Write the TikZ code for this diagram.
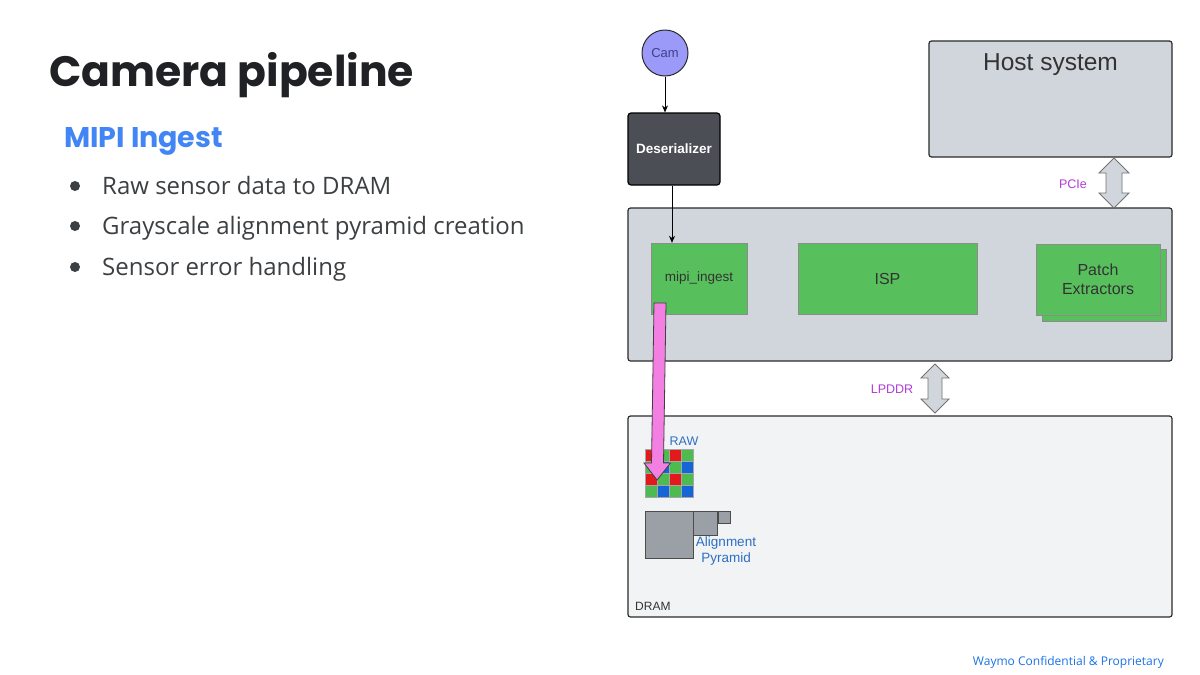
\documentclass[tikz,border=0pt]{standalone}
\usepackage{fontspec}
\setmainfont{Liberation Sans}
\newfontfamily\titlefont{Poppins}
\newfontfamily\bodyfont{Open Sans}
\definecolor{titlec}{HTML}{202124}
\definecolor{bodyc}{HTML}{3C4043}
\definecolor{gblue}{HTML}{4285F4}
\definecolor{footblue}{HTML}{1A73E8}
\definecolor{camfill}{HTML}{9B9AF8}
\definecolor{camtext}{HTML}{3F3F8F}
\definecolor{desfill}{HTML}{4B4E55}
\definecolor{socfill}{HTML}{D1D5DC}
\definecolor{dramfill}{HTML}{F1F3F5}
\definecolor{boxgreen}{HTML}{57C05C}
\definecolor{lblmag}{HTML}{B23CD8}
\definecolor{lblblue}{HTML}{2E6FC4}
\definecolor{bred}{HTML}{E3191C}
\definecolor{bgreen}{HTML}{4CBB50}
\definecolor{bblue}{HTML}{1565D8}
\definecolor{pyrgrey}{HTML}{9AA0A6}
\definecolor{pinkarr}{HTML}{F47FE3}
\definecolor{edge}{HTML}{2B2B2B}
\usetikzlibrary{arrows.meta}
\tikzset{
  bigbox/.style={draw=edge, line width=1.2pt, rounded corners=2.5pt, inner sep=0pt},
  greenbox/.style={draw=black!45, fill=boxgreen, line width=0.4pt, inner sep=0pt, align=center, text=black!80, font=\fontsize{16}{19.5}\selectfont},
  bulletdot/.style={circle, fill=bodyc, inner sep=0pt, minimum size=10pt},
  bullettext/.style={anchor=base west, text=bodyc, font=\bodyfont\fontsize{24}{27}\selectfont, inner sep=0pt},
  dblarrow/.style={draw=black!55, fill=socfill, line width=0.8pt, line join=miter},
  conn/.style={draw=black, line width=0.8pt, -{Stealth[length=7pt,width=6pt]}},
  lbl/.style={inner sep=0pt, font=\fontsize{12.5}{14}\selectfont},
  bayer/.style={draw=black!35, line width=0.3pt},
}
\begin{document}
\begin{tikzpicture}[x=1pt,y=-1pt]
\useasboundingbox (0,0) rectangle (1200,675);
\fill[white] (0,0) rectangle (1200,675);

% ---- left text ----
\node[anchor=base west, inner sep=0pt, text=titlec, font=\titlefont\bfseries\fontsize{42.5}{48}\selectfont] (title) at (49,86) {Camera pipeline};
\node[anchor=base west, inner sep=0pt, text=gblue, font=\titlefont\bfseries\fontsize{28.5}{32}\selectfont] (sub) at (64,147) {MIPI Ingest};
\node[bulletdot] (d1) at (75,186) {};
\node[bullettext] (b1) at (102,194) {Raw sensor data to DRAM};
\node[bulletdot] (d2) at (75,226) {};
\node[bullettext] (b2) at (102,234) {Grayscale alignment pyramid creation};
\node[bulletdot] (d3) at (75,267) {};
\node[bullettext] (b3) at (102,275) {Sensor error handling};

% ---- big boxes ----
\node[bigbox, fill=socfill, minimum width=243pt, minimum height=116pt] (host) at (1050.5,99) {};
\node[anchor=center, inner sep=0pt, text=black!80, font=\fontsize{24.5}{28}\selectfont] (hostlbl) at (1050.5,64.5) {Host system};
\node[bigbox, fill=socfill, minimum width=544pt, minimum height=153pt] (soc) at (900,284.5) {};
\node[bigbox, fill=dramfill, minimum width=544pt, minimum height=201pt] (dram) at (900,516.5) {};
\node[lbl, anchor=base west, text=black!80, font=\fontsize{12}{14}\selectfont] (dramlbl) at (635,610) {DRAM};

% ---- camera + deserializer ----
\node[circle, draw=edge, line width=1pt, fill=camfill, minimum size=46pt, inner sep=0pt, text=camtext, font=\fontsize{13}{15}\selectfont] (cam) at (665,53) {Cam};
\node[draw=black, line width=1.2pt, fill=desfill, rounded corners=3pt, minimum width=92pt, minimum height=72pt, text=white, font=\bfseries\fontsize{13.5}{15}\selectfont] (des) at (674,149) {Deserializer};
\draw[conn] (cam.south) -- (des.north -| cam.south);

% ---- green blocks ----
\node[greenbox, minimum width=96pt, minimum height=71pt, font=\fontsize{13.5}{15}\selectfont] (mipi) at (699,278.5) {mipi\_ingest};
\node[greenbox, minimum width=179pt, minimum height=71pt] (isp) at (887.5,278.5) {ISP};
\node[greenbox, minimum width=124pt, minimum height=72pt] (patchb) at (1104,285) {};
\node[greenbox, minimum width=124pt, minimum height=71pt] (patch) at (1098,279.5) {Patch\\Extractors};
\draw[conn] (des.south -| 672,0) -- (mipi.north -| 672,0);

% ---- double arrows ----
\draw[dblarrow] (1114,158) -- ++(15,15) -- ++(-7,0) -- ++(0,20) -- ++(7,0) -- ++(-15,15) -- ++(-15,-15) -- ++(7,0) -- ++(0,-20) -- ++(-7,0) -- cycle;
\node[lbl, text=lblmag] (pcie) at (1073,184) {PCIe};
\draw[dblarrow] (935,364) -- ++(14,14) -- ++(-7,0) -- ++(0,21) -- ++(7,0) -- ++(-14,14) -- ++(-14,-14) -- ++(7,0) -- ++(0,-21) -- ++(-7,0) -- cycle;
\node[lbl, text=lblmag] (lpddr) at (892,389) {LPDDR};

% ---- RAW bayer grid ----
\foreach \r/\cA/\cB in {0/bred/bgreen,1/bgreen/bblue,2/bred/bgreen,3/bgreen/bblue}{
  \foreach \c in {0,2}{
    \filldraw[bayer, fill=\cA] (645+\c*12,449+\r*12) rectangle ++(12,12);
    \filldraw[bayer, fill=\cB] (657+\c*12,449+\r*12) rectangle ++(12,12);
  }
}
\node[coordinate] (rawgrid) at (657,470) {};
\node[lbl, text=lblblue, font=\fontsize{12.5}{14}\selectfont] (rawlbl) at (684,441) {RAW};

% ---- alignment pyramid ----
\node[draw=black!70, fill=pyrgrey, line width=0.5pt, minimum width=48pt, minimum height=47pt, inner sep=0pt] (p0) at (669,534.5) {};
\node[draw=black!70, fill=pyrgrey, line width=0.5pt, minimum width=24pt, minimum height=24pt, inner sep=0pt, anchor=north west] (p1) at (p0.north east) {};
\node[draw=black!70, fill=pyrgrey, line width=0.5pt, minimum width=12pt, minimum height=12pt, inner sep=0pt, anchor=north west] (p2) at (p1.north east) {};
\node[lbl, text=lblblue, align=center, font=\fontsize{13.5}{16}\selectfont] (pyrlbl) at (726,551) {Alignment\\Pyramid};

% ---- pink arrow from mipi_ingest into RAW ----
\draw[draw=black!75, fill=pinkarr, line width=0.8pt, line join=miter]
  (654,303) -- (666,303) -- (663.5,463) -- (670.5,463) -- (657,480) -- (644,463) -- (651.5,463) -- cycle;

% ---- footer ----
\node[anchor=base east, inner sep=0pt, text=footblue, font=\bodyfont\fontsize{12}{14}\selectfont] (foot) at (1164,665) {Waymo Confidential \& Proprietary};
\end{tikzpicture}
\end{document}
